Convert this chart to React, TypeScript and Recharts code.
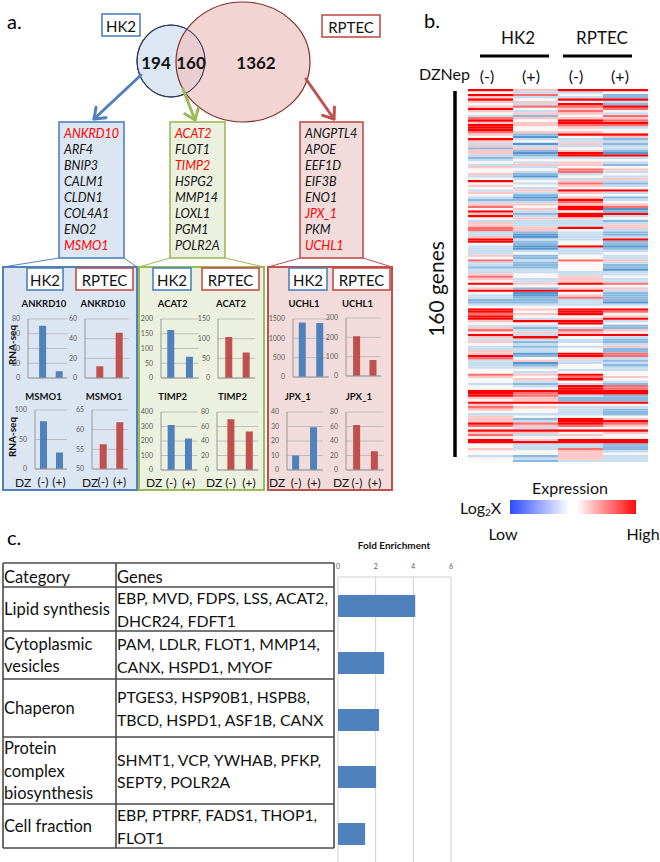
import React from 'react';
import { BarChart, Bar, XAxis, YAxis, CartesianGrid, Cell } from 'recharts';

const FONT = 'Lato, "Liberation Sans", sans-serif';
const BLUE = '#4f81bd';
const RED = '#c0504d';
const GREEN = '#9bbb59';

// panel a: venn + gene lists
const vennCounts = [194, 160, 1362];
const hk2OnlyGenes = ['ANKRD10', 'ARF4', 'BNIP3', 'CALM1', 'CLDN1', 'COL4A1', 'ENO2', 'MSMO1'];
const sharedGenes = ['ACAT2', 'FLOT1', 'TIMP2', 'HSPG2', 'MMP14', 'LOXL1', 'PGM1', 'POLR2A'];
const rptecOnlyGenes = ['ANGPTL4', 'APOE', 'EEF1D', 'EIF3B', 'ENO1', 'JPX_1', 'PKM', 'UCHL1'];
const highlightedGenes = ['ANKRD10', 'MSMO1', 'ACAT2', 'TIMP2', 'JPX_1', 'UCHL1'];

// panel a: RNA-seq mini bar charts, DZNep (-) / (+)
const dzLabels = ['(-)', '(+)'];
const ankrd10Hk2 = [71, 9];
const ankrd10Rptec = [12, 46];
const msmo1Hk2 = [81, 28];
const msmo1Rptec = [56.3, 61.9];
const acat2Hk2 = [163, 72];
const acat2Rptec = [104, 65];
const timp2Hk2 = [310, 217];
const timp2Rptec = [70, 53];
const uchl1Hk2 = [1410, 1395];
const uchl1Rptec = [205, 83];
const jpx1Hk2 = [10, 29.5];
const jpx1Rptec = [62, 26];

const ticks0to80by20 = [0, 20, 40, 60, 80];
const ticks0to60by20 = [0, 20, 40, 60];
const ticks0to100by50 = [0, 50, 100];
const ticks50to65by5 = [50, 55, 60, 65];
const ticks0to200by50 = [0, 50, 100, 150, 200];
const ticks0to150by50 = [0, 50, 100, 150];
const ticks0to400by100 = [0, 100, 200, 300, 400];
const ticks0to1500by500 = [0, 500, 1000, 1500];
const ticks0to300by100 = [0, 100, 200, 300];
const ticks0to40by10 = [0, 10, 20, 30, 40];

// panel b: heatmap, one string per gene, one char per column
// R strong red, r red, p pink, w white, l light blue, b blue, B strong blue
const heatColumns = ['HK2 (-)', 'HK2 (+)', 'RPTEC (-)', 'RPTEC (+)'];
const heatRows = [
  'RpRR', 'wllw', 'Rrwb', 'pllb', 'RwRR', 'ppwl', 'wlRb', 'prrR', 'Rwpr', 'plrw',
  'wppl', 'lbwr', 'rppp', 'RwRr', 'ppRR', 'Rprr', 'Rwpl', 'Rwww', 'rppw', 'pbRR',
  'wBwp', 'Rllb', 'pwll', 'lBpb', 'plll', 'bpwl', 'pbpb', 'pBRB', 'lbRR', 'blll',
  'lwww', 'wlpl', 'lppb', 'plww', 'wwrp', 'wlrl', 'pblw', 'lBwl', 'wllp', 'Rwpl',
  'wlrb', 'pwpl', 'wlww', 'lpRR', 'plpl', 'wbww', 'lBpb', 'bbRl', 'llrw', 'pppp',
  'rwRr', 'wpRB', 'Rlwb', 'pbRR', 'RlRl',
  'wppw', 'lllb', 'plll', 'pllp', 'rpRp', 'rpwl', 'lblb', 'lBlb', 'pBll', 'RllR',
  'Rbwb', 'wbwb', 'lBRB', 'lBlb', 'llll', 'lwlw', 'pbwl', 'wbwl', 'rlrp', 'lbwl',
  'lbwb', 'bbwb', 'llwB', 'llll', 'pwll', 'rwpw', 'plpl', 'wlpl', 'RpRr', 'wwww',
  'pbpp', 'RRRl', 'wBwb', 'lBpb', 'lbrb', 'bblb', 'bblB', 'llll', 'wwww', 'RpRR',
  'RwRr', 'rpRw', 'Rwwp', 'RlpR', 'pRRl', 'wwRw', 'llwb', 'pblb', 'rlrp', 'wppw',
  'RlRR', 'pRwl', 'lllb', 'pblb',
  'wlwl', 'lblp', 'llwb', 'plwb', 'pBRr', 'RbRr', 'rwpl', 'lplb', 'lBll', 'lbwb',
  'llwl', 'wwll', 'wlww', 'rpRw', 'pwrp', 'wpRw', 'wlwl', 'lblb', 'wlRr', 'wwRr',
  'RRRR', 'RrRR', 'Rrlb', 'ppbb', 'wpbb', 'RRRR', 'pwww', 'rpll', 'pwlb', 'wwlb',
  'lllb', 'pwww', 'pbRp', 'plRR', 'RrRr', 'rprp', 'wlww', 'RRRR', 'ppwp', 'rlpw',
  'wwww', 'RpRR', 'RRRR', 'wllb', 'wllb', 'plrb', 'wwpl', 'wwpw', 'lbpl', 'wlpl',
  'wbll',
];

// panel c: GO enrichment
const goCategories = ['Lipid synthesis', 'Cytoplasmic vesicles', 'Chaperon', 'Protein complex biosynthesis', 'Cell fraction'];
const foldEnrichment = [4.1, 2.45, 2.18, 2.02, 1.44];
const foldTicks = [0, 2, 4, 6];

const LEVEL_COLORS: Record<string, string> = {
  R: '#ff0000',
  r: '#ff6e6e',
  p: '#ffc6c6',
  w: '#fbf7f7',
  l: '#c6dcef',
  b: '#8ab8df',
  B: '#5696d0',
};

const miniCharts = [
  { title: 'ANKRD10', values: ankrd10Hk2, ticks: ticks0to80by20, color: BLUE, axisX: 28.3, c1: 42.7, c2: 59.3, top: 319, bottom: 378, dzX: 15 },
  { title: 'ANKRD10', values: ankrd10Rptec, ticks: ticks0to60by20, color: RED, axisX: 85.3, c1: 100.3, c2: 119.7, top: 319, bottom: 378, dzX: 82 },
  { title: 'MSMO1', values: msmo1Hk2, ticks: ticks0to100by50, color: BLUE, axisX: 34.5, c1: 42.5, c2: 58.5, top: 410, bottom: 469, dzX: 15 },
  { title: 'MSMO1', values: msmo1Rptec, ticks: ticks50to65by5, color: RED, axisX: 91.7, c1: 102.7, c2: 119.3, top: 410, bottom: 469, dzX: 82 },
  { title: 'ACAT2', values: acat2Hk2, ticks: ticks0to200by50, color: BLUE, axisX: 160.7, c1: 170.3, c2: 189, top: 319, bottom: 378, dzX: 146 },
  { title: 'ACAT2', values: acat2Rptec, ticks: ticks0to150by50, color: RED, axisX: 218.3, c1: 229.3, c2: 246.7, top: 319, bottom: 378, dzX: 206 },
  { title: 'TIMP2', values: timp2Hk2, ticks: ticks0to400by100, color: BLUE, axisX: 160.7, c1: 171, c2: 188.3, top: 412, bottom: 470, dzX: 146 },
  { title: 'TIMP2', values: timp2Rptec, ticks: ticks0to80by20, color: RED, axisX: 216.7, c1: 230.3, c2: 248.7, top: 412, bottom: 470, dzX: 206 },
  { title: 'UCHL1', values: uchl1Hk2, ticks: ticks0to1500by500, color: BLUE, axisX: 292.7, c1: 302.2, c2: 319.7, top: 319, bottom: 377, dzX: 269 },
  { title: 'UCHL1', values: uchl1Rptec, ticks: ticks0to300by100, color: RED, axisX: 346, c1: 356.3, c2: 372.7, top: 318, bottom: 376, dzX: 333 },
  { title: 'JPX_1', values: jpx1Hk2, ticks: ticks0to40by10, color: BLUE, axisX: 286.7, c1: 295.8, c2: 313.7, top: 412, bottom: 470, dzX: 269 },
  { title: 'JPX_1', values: jpx1Rptec, ticks: ticks0to80by20, color: RED, axisX: 346, c1: 357, c2: 374.7, top: 412, bottom: 470, dzX: 333 },
];

function MiniChart({ spec }: { spec: (typeof miniCharts)[number] }) {
  const { values, ticks, color, axisX, c1, c2, top, bottom } = spec;
  const showX = top > 400;
  const d = c2 - c1;
  const yW = 26;
  const mTop = 5;
  const mBottom = showX ? 0 : 6;
  const padL = Math.max(0, c1 - d / 2 - axisX);
  const plotW = c2 + d / 2 - axisX;
  const xH = showX ? 20 : 1;
  const data = dzLabels.map((dz, i) => ({ dz, v: values[i] }));
  return (
    <div style={{ position: 'absolute', left: axisX - yW, top: top - mTop }}>
      <BarChart
        width={yW + plotW + 2}
        height={mTop + (bottom - top) + xH + mBottom}
        data={data}
        margin={{ top: mTop, right: 2, left: 0, bottom: mBottom }}
        style={{ overflow: 'visible' }}
      >
        <CartesianGrid vertical={false} stroke="#b3b3b3" strokeWidth={0.8} />
        <XAxis
          dataKey="dz"
          height={xH}
          padding={{ left: padL, right: 0 }}
          axisLine={{ stroke: '#9a9a9a' }}
          tickLine={false}
          tick={showX ? { fontSize: 12, fill: '#111', fontFamily: FONT } : false}
          interval={0}
        />
        <YAxis
          width={yW}
          domain={[ticks[0], ticks[ticks.length - 1]]}
          ticks={ticks}
          interval={0}
          allowDataOverflow
          tick={{ fontSize: 7, fill: '#595959', fontFamily: FONT }}
          tickLine={false}
          tickMargin={2}
          axisLine={{ stroke: '#9a9a9a' }}
        />
        <Bar dataKey="v" fill={color} barSize={7} isAnimationActive={false} />
      </BarChart>
    </div>
  );
}

function Arrow({ x1, y1, x2, y2, color }: { x1: number; y1: number; x2: number; y2: number; color: string }) {
  const a = Math.atan2(y2 - y1, x2 - x1);
  const L = 12;
  const w = 0.65;
  const p1 = `${x2 - L * Math.cos(a - w)},${y2 - L * Math.sin(a - w)}`;
  const p2 = `${x2 - L * Math.cos(a + w)},${y2 - L * Math.sin(a + w)}`;
  return (
    <g stroke={color} strokeWidth={3} fill="none" strokeLinecap="round" strokeLinejoin="round">
      <line x1={x1} y1={y1} x2={x2} y2={y2} />
      <polyline points={`${p1} ${x2},${y2} ${p2}`} />
    </g>
  );
}

function GeneList({ genes, x, y }: { genes: string[]; x: number; y: number }) {
  return (
    <g fontStyle="italic" fontSize={12.5} fontFamily={FONT}>
      {genes.map((g, i) => (
        <text key={g} x={x} y={y + i * 16} dominantBaseline="central" fill={highlightedGenes.includes(g) ? '#ff0000' : '#111'}>
          {g}
        </text>
      ))}
    </g>
  );
}

function LabelBox({ x, y, w, h, label, color, size = 15 }: { x: number; y: number; w: number; h: number; label: string; color: string; size?: number }) {
  return (
    <g>
      <rect x={x} y={y} width={w} height={h} fill="#fff" stroke={color} strokeWidth={1.6} />
      <text x={x + w / 2} y={y + h / 2 + 1} textAnchor="middle" dominantBaseline="central" fontSize={size} fontFamily={FONT} fill="#111">
        {label}
      </text>
    </g>
  );
}

const tableRowLines = [563, 587, 631, 679, 737, 804, 848];
const categoryLines = [['Lipid synthesis'], ['Cytoplasmic', 'vesicles'], ['Chaperon'], ['Protein', 'complex', 'biosynthesis'], ['Cell fraction']];
const geneLines = [
  ['EBP, MVD, FDPS, LSS, ACAT2,', 'DHCR24, FDFT1'],
  ['PAM, LDLR, FLOT1, MMP14,', 'CANX, HSPD1, MYOF'],
  ['PTGES3, HSP90B1, HSPB8,', 'TBCD, HSPD1, ASF1B, CANX'],
  ['SHMT1, VCP, YWHAB, PFKP,', 'SEPT9, POLR2A'],
  ['EBP, PTPRF, FADS1, THOP1,', 'FLOT1'],
];

function Decorations() {
  const panelBoxes = [
    { x: 3, w: 134, fill: '#dce6f2', stroke: BLUE, from: [59, 124] },
    { x: 139, w: 125, fill: '#ebf1de', stroke: GREEN, from: [170, 225] },
    { x: 268, w: 124, fill: '#f2dcdb', stroke: RED, from: [300, 363] },
  ];
  return (
    <svg width={660} height={862} style={{ position: 'absolute', left: 0, top: 0 }} fontFamily={FONT}>
      <defs>
        <linearGradient id="expr" x1="0" x2="1" y1="0" y2="0">
          <stop offset="0" stopColor="#2f4cff" />
          <stop offset="0.47" stopColor="#ffffff" />
          <stop offset="0.53" stopColor="#ffffff" />
          <stop offset="1" stopColor="#ff0a0a" />
        </linearGradient>
      </defs>

      {/* panel a */}
      <text x={7} y={21} fontSize={20} dominantBaseline="central">a.</text>
      <LabelBox x={102} y={14} w={38} h={22} label="HK2" color={BLUE} />
      <LabelBox x={322} y={15} w={58} h={22} label="RPTEC" color={RED} />

      <ellipse cx={171} cy={61} rx={34} ry={36} fill="#dde7f3" stroke="#2b3a55" strokeWidth={1.2} />
      <ellipse cx={243} cy={62} rx={67} ry={60} fill="#eec3c3" fillOpacity={0.72} stroke="#7a2e2e" strokeWidth={1.2} />
      <ellipse cx={171} cy={61} rx={34} ry={36} fill="none" stroke="#2b3a55" strokeWidth={1} />
      <g fontWeight="bold" fontSize={17} textAnchor="middle" dominantBaseline="central" fill="#111">
        <text x={156} y={62}>{vennCounts[0]}</text>
        <text x={191} y={62}>{vennCounts[1]}</text>
        <text x={256} y={62}>{vennCounts[2]}</text>
      </g>

      <Arrow x1={141} y1={75} x2={94} y2={119} color={BLUE} />
      <Arrow x1={183} y1={89} x2={195} y2={120} color={GREEN} />
      <Arrow x1={306} y1={79} x2={334} y2={119} color={RED} />

      <rect x={59} y={122} width={65} height={136} fill="#dce6f2" stroke={BLUE} strokeWidth={1.6} />
      <rect x={170} y={122} width={55} height={136} fill="#ebf1de" stroke={GREEN} strokeWidth={1.6} />
      <rect x={300} y={122} width={63} height={136} fill="#f2dcdb" stroke={RED} strokeWidth={1.6} />
      <GeneList genes={hk2OnlyGenes} x={64} y={133} />
      <GeneList genes={sharedGenes} x={175} y={133} />
      <GeneList genes={rptecOnlyGenes} x={305} y={133} />

      {panelBoxes.map((p) => (
        <g key={p.x}>
          <line x1={p.from[0]} y1={258} x2={p.x} y2={267} stroke={p.stroke} strokeWidth={1} />
          <line x1={p.from[1]} y1={258} x2={p.x + p.w} y2={267} stroke={p.stroke} strokeWidth={1} />
          <rect x={p.x} y={267} width={p.w} height={223} fill={p.fill} stroke={p.stroke} strokeWidth={2} />
        </g>
      ))}
      <LabelBox x={27} y={268} w={36} h={22} label="HK2" color={BLUE} />
      <LabelBox x={76} y={268} w={57} h={22} label="RPTEC" color={RED} />
      <LabelBox x={153} y={268} w={38} h={22} label="HK2" color={BLUE} />
      <LabelBox x={202} y={268} w={57} h={22} label="RPTEC" color={RED} />
      <LabelBox x={289} y={268} w={38} h={22} label="HK2" color={BLUE} />
      <LabelBox x={333} y={268} w={57} h={22} label="RPTEC" color={RED} />

      {miniCharts.map((m, i) => (
        <g key={i}>
          <text x={(m.c1 + m.c2) / 2 - 7} y={m.top > 400 ? 396 : 303} textAnchor="middle" dominantBaseline="central" fontSize={9.5} fontWeight="bold" fill="#111">
            {m.title}
          </text>
          {m.top > 400 && (
            <text x={m.dzX} y={482} dominantBaseline="central" fontSize={12} fill="#111">DZ</text>
          )}
        </g>
      ))}
      <g fontSize={10} fontWeight="bold" textAnchor="middle" dominantBaseline="central" fill="#111">
        <text transform="translate(11.5,345) rotate(-90)">RNA-seq</text>
        <text transform="translate(11.5,437) rotate(-90)">RNA-seq</text>
      </g>

      {/* panel b */}
      <text x={424} y={20} fontSize={20} dominantBaseline="central">b.</text>
      <g fontSize={17} textAnchor="middle" dominantBaseline="central" fill="#111">
        <text x={518} y={37}>HK2</text>
        <text x={602} y={37}>RPTEC</text>
      </g>
      <line x1={480} x2={549} y1={56} y2={56} stroke="#000" strokeWidth={3} />
      <line x1={563} x2={632} y1={56} y2={56} stroke="#000" strokeWidth={3} />
      <g fontSize={16} dominantBaseline="central" fill="#111">
        <text x={419} y={73}>DZNep</text>
        {['(-)', '(+)', '(-)', '(+)'].map((t, i) => (
          <text key={i} x={[487, 531, 576, 620][i]} y={75} textAnchor="middle">{t}</text>
        ))}
      </g>
      <line x1={455} x2={455} y1={91} y2={457} stroke="#000" strokeWidth={3.5} />
      <text transform="translate(435,289) rotate(-90)" fontSize={21} textAnchor="middle" dominantBaseline="central" fill="#111">
        160 genes
      </text>
      <text x={570} y={487} fontSize={16} textAnchor="middle" dominantBaseline="central" fill="#111">Expression</text>
      <text x={460} y={507} fontSize={16} dominantBaseline="central" fill="#111">
        Log<tspan fontSize={10} dy={5}>2</tspan><tspan dy={-5}>X</tspan>
      </text>
      <rect x={510} y={500} width={126} height={14} fill="url(#expr)" />
      <text x={503} y={533} fontSize={16} textAnchor="middle" dominantBaseline="central" fill="#111">Low</text>
      <text x={643} y={533} fontSize={16} textAnchor="middle" dominantBaseline="central" fill="#111">High</text>

      {/* panel c */}
      <text x={7} y={537} fontSize={20} dominantBaseline="central">c.</text>
      <text x={394} y={545} fontSize={10} fontWeight="bold" textAnchor="middle" dominantBaseline="central" fill="#111">
        Fold Enrichment
      </text>
      <g stroke="#4a4a4a" strokeWidth={1.6}>
        {tableRowLines.map((y) => (
          <line key={y} x1={3} x2={334} y1={y} y2={y} />
        ))}
        <line x1={3} x2={3} y1={563} y2={848} />
        <line x1={116} x2={116} y1={563} y2={848} />
        <line x1={334} x2={334} y1={563} y2={848} />
      </g>
      <g fontSize={16.5} dominantBaseline="central" fill="#111">
        <text x={4} y={577}>Category</text>
        <text x={117} y={577}>Genes</text>
        {goCategories.map((c, i) => {
          const y0 = tableRowLines[i + 1];
          const y1 = tableRowLines[i + 2];
          const mid = (y0 + y1) / 2;
          const cl = categoryLines[i];
          const gl = geneLines[i];
          return (
            <g key={c}>
              {cl.map((t, j) => (
                <text key={t} x={4} y={mid + (j - (cl.length - 1) / 2) * 22.5}>{t}</text>
              ))}
              {gl.map((t, j) => (
                <text key={t} x={117} y={mid + (j - (gl.length - 1) / 2) * 22.5} fontSize={15.8}>{t}</text>
              ))}
            </g>
          );
        })}
      </g>
    </svg>
  );
}

function Heatmap() {
  const data = heatColumns.map((col) => {
    const row: Record<string, string | number> = { col };
    heatRows.forEach((_, ri) => {
      row[`g${ri}`] = 1;
    });
    return row;
  });
  const order = heatRows.map((_, i) => heatRows.length - 1 - i);
  return (
    <div className="heat" style={{ position: 'absolute', left: 468, top: 89 }}>
      <style>{'.heat rect{shape-rendering:crispEdges}'}</style>
      <BarChart width={180} height={373} data={data} margin={{ top: 0, right: 0, left: 0, bottom: 0 }} barCategoryGap={0} barGap={0}>
        <XAxis dataKey="col" hide />
        <YAxis type="number" hide domain={[0, heatRows.length]} />
        {order.map((ri) => (
          <Bar key={ri} dataKey={`g${ri}`} stackId="h" isAnimationActive={false}>
            {heatColumns.map((c, ci) => (
              <Cell key={c} fill={LEVEL_COLORS[heatRows[ri][ci]]} />
            ))}
          </Bar>
        ))}
      </BarChart>
    </div>
  );
}

function FoldChart() {
  const data = goCategories.map((category, i) => ({ category, fold: foldEnrichment[i] }));
  return (
    <div style={{ position: 'absolute', left: 330, top: 560 }}>
      <BarChart layout="vertical" width={133} height={302} data={data} margin={{ top: 0, right: 12, left: 8, bottom: 0 }}>
        <CartesianGrid horizontal={false} stroke="#d0d0d0" />
        <XAxis
          type="number"
          orientation="top"
          domain={[0, 6]}
          ticks={foldTicks}
          interval={0}
          height={17}
          tick={{ fontSize: 7, fill: '#595959', fontFamily: FONT }}
          tickLine={false}
          axisLine={{ stroke: '#d0d0d0' }}
        />
        <YAxis type="category" dataKey="category" hide />
        <Bar dataKey="fold" fill={BLUE} barSize={22} isAnimationActive={false} />
      </BarChart>
    </div>
  );
}

export default function App() {
  return (
    <div style={{ position: 'absolute', left: 0, top: 0, width: 660, height: 862, background: '#fff', fontFamily: FONT, overflow: 'hidden' }}>
      <Decorations />
      {miniCharts.map((m, i) => (
        <MiniChart key={i} spec={m} />
      ))}
      <Heatmap />
      <FoldChart />
    </div>
  );
}
